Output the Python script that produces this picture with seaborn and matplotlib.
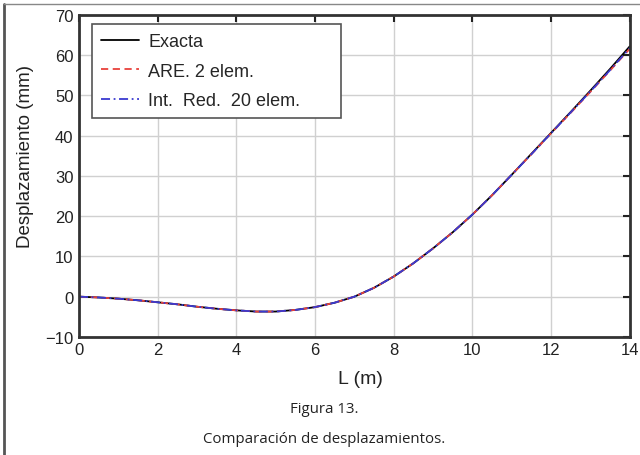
import matplotlib
matplotlib.use("Agg")
import matplotlib.pyplot as plt
from matplotlib.lines import Line2D
import seaborn as sns
import pandas as pd

# posiciones a lo largo de la viga (m)
L = [0, 0.5, 1, 1.5, 2, 2.5, 3, 3.5, 4, 4.5, 5, 5.5, 6, 6.5, 7,
     7.5, 8, 8.5, 9, 9.5, 10, 10.5, 11, 11.5, 12, 12.5, 13, 13.5, 14]

# desplazamientos (mm)
exacta = [0, -0.2, -0.5, -0.9, -1.4, -1.9, -2.5, -3.0, -3.4, -3.7, -3.7,
          -3.3, -2.6, -1.5, 0.0, 2.2, 5.0, 8.3, 12.0, 16.0, 20.4, 25.2,
          30.3, 35.5, 40.7, 45.9, 51.2, 56.6, 62.2]
are_2 = [0, -0.2, -0.5, -0.9, -1.4, -1.9, -2.5, -3.0, -3.4, -3.7, -3.7,
         -3.3, -2.6, -1.5, 0.0, 2.2, 5.0, 8.3, 12.0, 16.0, 20.4, 25.2,
         30.3, 35.4, 40.6, 45.7, 50.9, 56.2, 61.6]
int_red_20 = [0, -0.2, -0.5, -0.9, -1.4, -1.9, -2.5, -3.0, -3.4, -3.7, -3.7,
              -3.3, -2.6, -1.5, 0.0, 2.2, 5.0, 8.3, 12.0, 16.0, 20.4, 25.2,
              30.3, 35.4, 40.6, 45.8, 51.0, 56.3, 61.8]

etiquetas = ["Exacta", "ARE. 2 elem.", "Int.  Red.  20 elem."]
colores = ["black", "#e8413c", "#3a3ad0"]
estilos = ["-", (0, (4, 2.5)), (0, (5, 2, 1, 2))]

df = pd.DataFrame({"L": L, etiquetas[0]: exacta,
                   etiquetas[1]: are_2, etiquetas[2]: int_red_20})

sns.set_style("white")
plt.rcParams["font.family"] = ["Liberation Sans", "DejaVu Sans"]

fig = plt.figure(figsize=(6.4, 4.56), dpi=100)
ax = fig.add_axes([0.1234, 0.259, 0.8606, 0.706])

for nombre, c, ls in zip(etiquetas, colores, estilos):
    sns.lineplot(data=df, x="L", y=nombre, ax=ax, color=c, linestyle=ls,
                 linewidth=1.3, label=nombre)

ax.set_xlim(0, 14)
ax.set_ylim(-10, 70)
ax.set_xticks(range(0, 15, 2))
ax.set_yticks(range(-10, 71, 10))
ax.set_yticklabels(["\u221210"] + [str(v) for v in range(0, 71, 10)])
ax.grid(True, color="#d0d0d0", linewidth=1)
ax.tick_params(direction="in", length=5, width=1.5, top=True, right=True,
               labelsize=12, colors="#222222", pad=4)
for s in ax.spines.values():
    s.set_linewidth(2)
    s.set_color("#333333")

ax.set_xlabel("L (m)", fontsize=14, color="#222222")
ax.xaxis.set_label_coords(0.511, -0.104)
ax.set_ylabel("Desplazamiento (mm)", fontsize=13.5, color="#222222")
ax.yaxis.set_label_coords(-0.082, 0.565)

leg = ax.legend(loc="upper left", bbox_to_anchor=(0.024, 0.68, 0.452, 0.292),
                mode="expand", fontsize=13, frameon=True, fancybox=False,
                handlelength=2.1, borderpad=0.5, labelspacing=0.7,
                handletextpad=0.5, borderaxespad=0)
leg.get_frame().set_edgecolor("#555555")
leg.get_frame().set_linewidth(1.2)
leg.get_frame().set_alpha(1)

# marco de la pagina
fig.add_artist(Line2D([3.5 / 640, 3.5 / 640], [0, 1 - 5 / 456],
                      transform=fig.transFigure, color="#555555", linewidth=2))
fig.add_artist(Line2D([3.5 / 640, 1], [1 - 5 / 456, 1 - 5 / 456],
                      transform=fig.transFigure, color="#888888", linewidth=1))

fig.text(324 / 640, 1 - 410 / 456, "Figura 13.", ha="center", va="center",
         fontsize=10.8, family=["Open Sans", "DejaVu Sans"], color="#222222")
fig.text(324 / 640, 1 - 440 / 456, "Comparación de desplazamientos.",
         ha="center", va="center", fontsize=10.8,
         family=["Open Sans", "DejaVu Sans"], color="#222222")

fig.savefig("out.png", dpi=100)
